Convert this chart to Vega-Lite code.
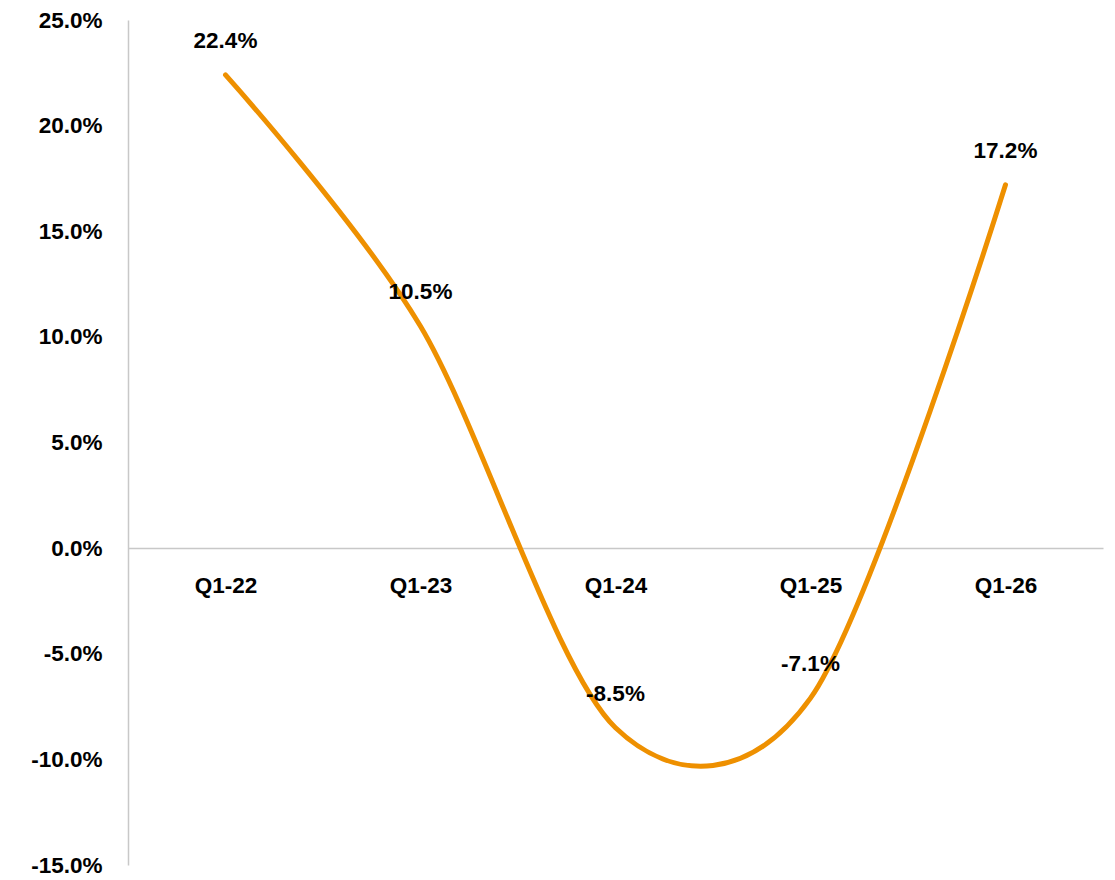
{
  "$schema": "https://vega.github.io/schema/vega-lite/v6.json",
  "width": 975,
  "height": 845,
  "autosize": {"type": "none"},
  "padding": {"left": 128, "top": 20, "right": 12, "bottom": 15},
  "background": "white",
  "config": {
    "view": {"stroke": null},
    "font": "Liberation Sans",
    "locale": {"number": {"decimal": ".", "thousands": ",", "grouping": [3], "currency": ["$", ""], "minus": "-"}}
  },
  "data": {
    "values": [
      {"q": "Q1-22", "v": 0.224},
      {"q": "Q1-23", "v": 0.105},
      {"q": "Q1-24", "v": -0.085},
      {"q": "Q1-25", "v": -0.071},
      {"q": "Q1-26", "v": 0.172}
    ]
  },
  "encoding": {
    "x": {
      "field": "q",
      "type": "ordinal",
      "sort": null,
      "scale": {"type": "point", "padding": 0.5},
      "axis": {
        "title": null,
        "offset": -316.9,
        "labelAngle": 0,
        "ticks": false,
        "domainColor": "#C8C8C8",
        "domainWidth": 1.5,
        "labelFont": "Liberation Sans",
        "labelFontWeight": "bold",
        "labelFontSize": 22.5,
        "labelColor": "#000000",
        "labelPadding": 26
      }
    },
    "y": {
      "field": "v",
      "type": "quantitative",
      "scale": {"domain": [-0.15, 0.25], "nice": false, "zero": false},
      "axis": {
        "title": null,
        "format": ".1%",
        "values": [-0.15, -0.1, -0.05, 0, 0.05, 0.1, 0.15, 0.2, 0.25],
        "grid": false,
        "ticks": false,
        "domainColor": "#C8C8C8",
        "domainWidth": 1.5,
        "labelFont": "Liberation Sans",
        "labelFontWeight": "bold",
        "labelFontSize": 22.5,
        "labelColor": "#000000",
        "labelPadding": 26
      }
    }
  },
  "layer": [
    {
      "mark": {"type": "line", "interpolate": "cardinal", "tension": 0.08, "color": "#EE9000", "strokeWidth": 5, "strokeCap": "round"}
    },
    {
      "mark": {"type": "text", "font": "Liberation Sans", "fontWeight": "bold", "fontSize": 22.5, "color": "#000000", "baseline": "middle", "dy": -34},
      "encoding": {"text": {"field": "v", "type": "quantitative", "format": ".1%"}}
    }
  ]
}
